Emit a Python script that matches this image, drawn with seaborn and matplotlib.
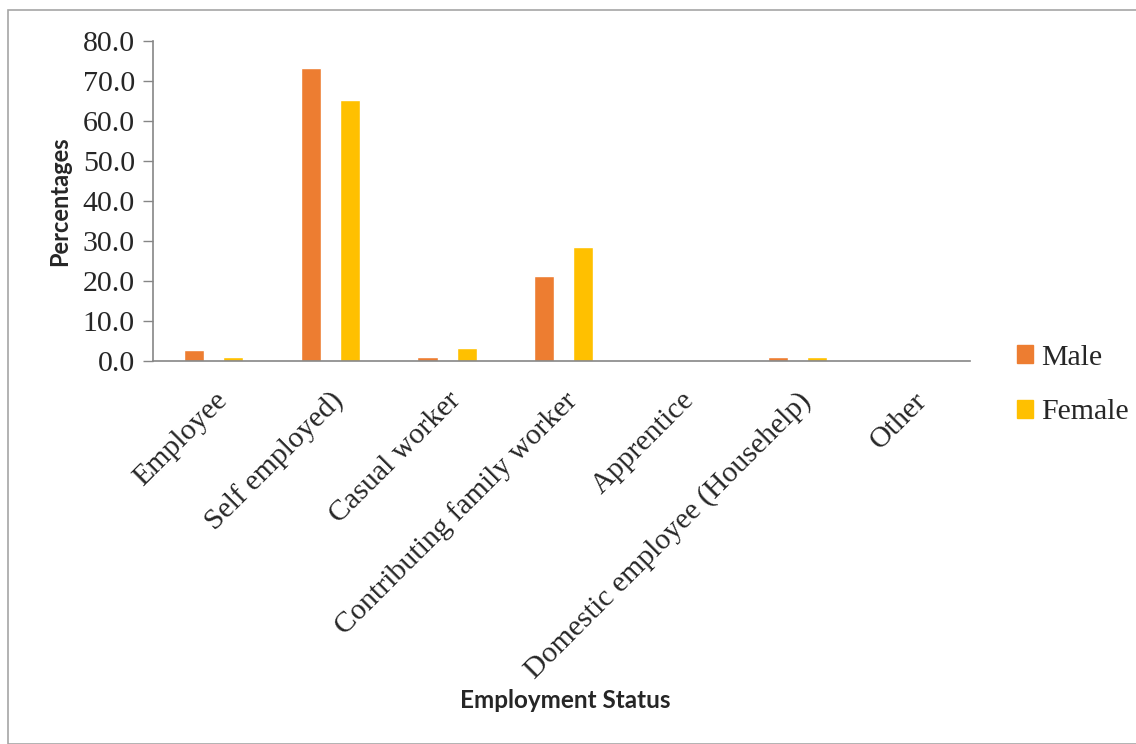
import numpy as np
import pandas as pd
import matplotlib
matplotlib.use("Agg")
import matplotlib.pyplot as plt
from matplotlib.patches import Rectangle
import seaborn as sns

categories = ["Employee", "Self employed)", "Casual worker", "Contributing family worker",
              "Apprentice", "Domestic employee (Househelp)", "Other"]
male = [2.8, 73.2, 1.0, 21.3, 0.2, 1.0, 0.0]
female = [1.0, 65.3, 3.3, 28.6, 0.0, 1.1, 0.3]
series = ["Male", "Female"]
colors = {"Male": "#ED7D31", "Female": "#FFC000"}
yticks = [0, 10, 20, 30, 40, 50, 60, 70, 80]

sns.set_theme(style="white")
plt.rcParams["font.family"] = ["Liberation Serif", "DejaVu Serif"]

fig = plt.figure(figsize=(11.36, 7.44), dpi=100)
ax = fig.add_axes([153/1136, 1 - 361/744, (970-153)/1136, (361-41)/744])

idx = np.arange(len(categories))
offset = 0.168
bw = 0.172
for name, vals, sign in [("Male", male, -1), ("Female", female, 1)]:
    df = pd.DataFrame({"x": idx + sign * offset, "y": vals})
    sns.barplot(data=df, x="x", y="y", native_scale=True, width=bw,
                color=colors[name], saturation=1, ax=ax, errorbar=None)

ax.set_xlim(-0.52, len(categories) - 0.52)
ax.set_ylim(0, 80)
ax.set_yticks(yticks)
ax.set_yticklabels([f"{v:.1f}" for v in yticks], fontsize=21.5)
ax.set_xticks(idx)
ax.set_xticklabels(categories, rotation=45, ha="right", rotation_mode="anchor", fontsize=21.5)
ax.tick_params(axis="y", which="major", left=True, length=7, color="#868686", width=1, pad=6)
ax.tick_params(axis="x", bottom=False, pad=13)
for s in ["top", "right"]:
    ax.spines[s].set_visible(False)
for s in ["left", "bottom"]:
    ax.spines[s].set_color("#868686")
    ax.spines[s].set_linewidth(1.2)

ax.set_ylabel("")
ax.set_xlabel("")
fig.text(60/1136, 1 - 201/744, "Percentages", fontsize=17, fontweight="bold",
         family=["Lato", "DejaVu Sans"], ha="center", va="center", rotation=90)
fig.text(565/1136, 1 - 701/744, "Employment Status", fontsize=17.5, fontweight="bold",
         family=["Lato", "DejaVu Sans"], ha="center", va="center")

handles = [Rectangle((0, 0), 1, 1, color=colors[s]) for s in series]
leg = fig.legend(handles, series, loc="upper left", bbox_to_anchor=(1005/1136, 1 - 333/744),
                 frameon=False, fontsize=21.5, handlelength=0.55, handleheight=0.55,
                 handletextpad=0.25, labelspacing=0.95, borderaxespad=0)

fig.patches.append(Rectangle((8/1136, 0), 1.2, 1 - 10/744, transform=fig.transFigure,
                             fill=False, edgecolor="#A6A6A6", linewidth=1.2))

fig.savefig("out.png", dpi=100)
